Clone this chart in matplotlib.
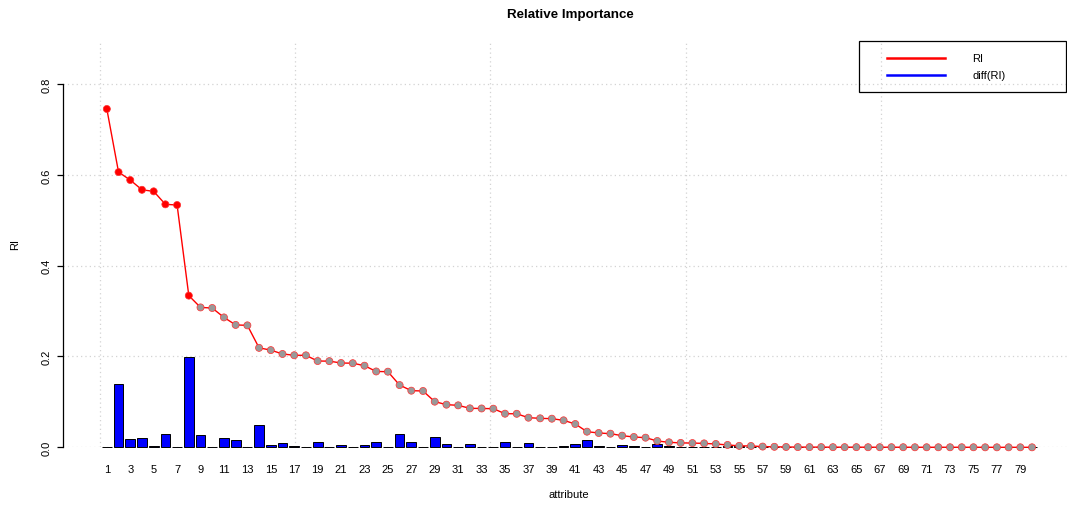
import numpy as np
import matplotlib
matplotlib.use("Agg")
import matplotlib.pyplot as plt
from matplotlib.patches import Rectangle
from matplotlib.lines import Line2D

plt.rcParams['font.family'] = ['Liberation Sans', 'DejaVu Sans']

# Relative importance of each attribute, sorted in decreasing order
ri = [0.745, 0.606, 0.5885, 0.567, 0.5636, 0.535, 0.5335, 0.334, 0.308, 0.3067,
      0.286, 0.2695, 0.2685, 0.219, 0.214, 0.2055, 0.2027, 0.2025, 0.190, 0.1897,
      0.1856, 0.1852, 0.1797, 0.167, 0.1665, 0.137, 0.1247, 0.124, 0.1005, 0.0939,
      0.0924, 0.0858, 0.0855, 0.085, 0.074, 0.0738, 0.0652, 0.0638, 0.063, 0.0594,
      0.0513, 0.0344, 0.0315, 0.0300, 0.0256, 0.0227, 0.0212, 0.0139, 0.0110, 0.0097,
      0.0093, 0.0086, 0.0073, 0.0052, 0.0032, 0.0029, 0.0016, 0.0011, 0.0007, 0.0005,
      0.0004, 0.0004, 0.0003, 0.0003, 0.0003, 0.0002, 0.0002, 0.0002, 0.0002, 0.0001,
      0.0001, 0.0001, 0.0001, 0.0001, 0.0001, 0.0, 0.0, 0.0, 0.0, 0.0]
n_selected = 8
attributes = list(range(1, len(ri) + 1))
tick_attributes = attributes[::2]
legend_labels = ["RI", "diff(RI)"]

ri = np.array(ri)
drops = np.concatenate([[0.0], -np.diff(ri)])

W, H = 1067, 506
fig = plt.figure(figsize=(W / 100, H / 100), dpi=100)

# plot region in pixel units (left, top, right, bottom)
L, T, R, B = 63.3, 42.3, 1074.0, 448.3
ax = fig.add_axes([L / W, 1 - B / H, (R - L) / W, (B - T) / H])

# bar layout: unit width, 0.2 gap, like a base barplot
xpos = 0.7 + 1.2 * np.arange(len(ri))
ax.set_xlim(-3.76, 99.8)
ax.set_ylim(0, 0.894)

grid_kw = dict(color="#d3d3d3", lw=0.9, ls=(0, (1, 2.5)), zorder=0)
for gx in [0, 20, 40, 60, 80]:
    ax.axvline(gx, **grid_kw)
for gy in [0, 0.2, 0.4, 0.6, 0.8]:
    ax.axhline(gy, **grid_kw)

ax.bar(xpos, drops, width=1.0, color="#0000ff", edgecolor="black",
       linewidth=0.7, zorder=2, clip_on=False)
ax.plot(xpos, ri, color="#ff0000", lw=1.0, zorder=3, clip_on=False)
face = ["#ff0000"] * n_selected + ["#999999"] * (len(ri) - n_selected)
ax.scatter(xpos, ri, s=26, c=face, edgecolors="#ff3030", linewidths=0.5,
           zorder=4, clip_on=False)

for s in ["top", "right", "bottom"]:
    ax.spines[s].set_visible(False)
ax.spines["left"].set_bounds(0, 0.8)
ax.spines["left"].set_linewidth(0.9)

ax.set_yticks([0, 0.2, 0.4, 0.6, 0.8])
ax.set_yticklabels(["0.0", "0.2", "0.4", "0.6", "0.8"], rotation=90,
                   va="center", fontsize=8)
ax.tick_params(axis="y", length=4.3, width=0.9, pad=4)

ax.set_xticks(xpos[::2])
ax.set_xticklabels([str(a) for a in tick_attributes], fontsize=8)
ax.tick_params(axis="x", length=0, pad=12)


def px(x, y):
    return x / W, 1 - y / H


fig.text(*px(570, 15), "Relative Importance", ha="center", va="center",
         fontsize=9.6, fontweight="bold")
fig.text(*px(569, 495), "attribute", ha="center", va="center", fontsize=8)
fig.text(*px(15, 245), "RI", ha="center", va="center", rotation=90, fontsize=8)

# legend box
x0, y0 = px(859, 93)
x1, y1 = px(1066, 42)
fig.add_artist(Rectangle((x0, y0), x1 - x0, y1 - y0, transform=fig.transFigure,
                         fill=False, edgecolor="black", lw=0.9))
for (label, color, yy) in zip(legend_labels, ["#ff0000", "#0000ff"], [59, 76]):
    a, b = px(887, yy)
    c, _ = px(945, yy)
    fig.add_artist(Line2D([a, c], [b, b], transform=fig.transFigure,
                          color=color, lw=1.8))
    fig.text(*px(972, yy), label, ha="left", va="center", fontsize=8)

fig.savefig("out.png", dpi=100)
